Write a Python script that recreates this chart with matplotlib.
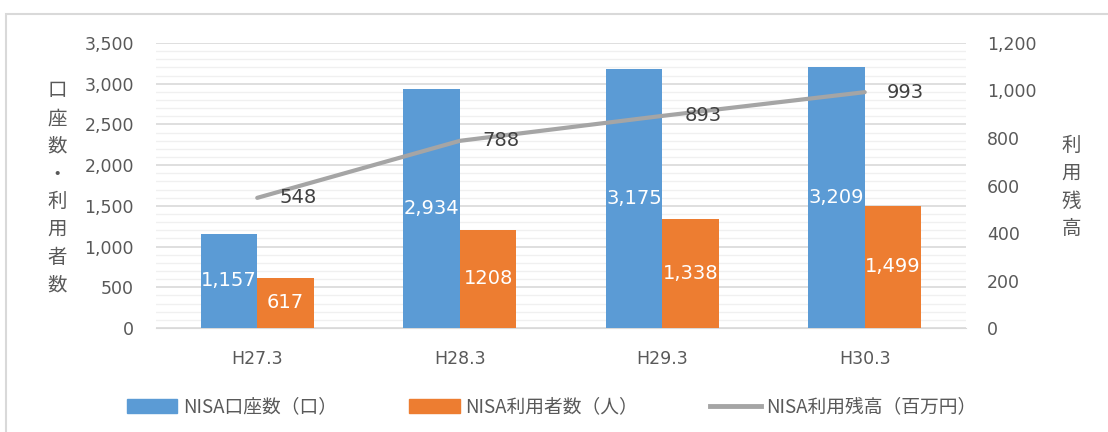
import numpy as np
import matplotlib.pyplot as plt
from matplotlib.patches import Patch, Rectangle
from matplotlib.lines import Line2D
from matplotlib.ticker import MultipleLocator, FuncFormatter

plt.rcParams['font.family'] = ['DejaVu Sans', 'Noto Sans CJK JP']
cjk = ['Noto Sans CJK JP', 'DejaVu Sans']

# データ
categories = ['H27.3', 'H28.3', 'H29.3', 'H30.3']
accounts = [1157, 2934, 3175, 3209]          # NISA口座数（口）
users = [617, 1208, 1338, 1499]              # NISA利用者数（人）
balance = [548, 788, 893, 993]               # NISA利用残高（百万円）
user_labels = ['617', '1208', '1,338', '1,499']

blue = '#5b9bd5'
orange = '#ed7d31'
gray = '#a5a5a5'
txt = '#595959'

fig = plt.figure(figsize=(11.08, 4.32), dpi=100)
ax = fig.add_axes([0.1408, 0.2407, 0.731, 0.6598])
ax2 = ax.twinx()

x = np.arange(len(categories))
w = 0.28
b1 = ax.bar(x - w / 2, accounts, w, color=blue, zorder=3)
b2 = ax.bar(x + w / 2, users, w, color=orange, zorder=3)

for rect, v in zip(b1, accounts):
    ax.text(rect.get_x() + rect.get_width() / 2, v / 2, f'{v:,}', color='white',
            ha='center', va='center', fontsize=14, zorder=4)
for rect, v, s in zip(b2, users, user_labels):
    ax.text(rect.get_x() + rect.get_width() / 2, v / 2, s, color='white',
            ha='center', va='center', fontsize=14, zorder=4)

ax.set_ylim(0, 3500)
ax.set_xlim(-0.5, 3.5)
ax.yaxis.set_major_locator(MultipleLocator(500))
ax.yaxis.set_minor_locator(MultipleLocator(100))
ax.yaxis.set_major_formatter(FuncFormatter(lambda v, p: f'{v:,.0f}'))
ax.grid(axis='y', which='major', color='#d9d9d9', lw=1.2, zorder=0)
ax.grid(axis='y', which='minor', color='#f0f0f0', lw=1.0, zorder=0)
ax.set_axisbelow(True)
ax.set_xticks(x)
ax.set_xticklabels(categories)
ax.tick_params(axis='y', which='both', length=0, labelsize=12.5, colors=txt, pad=16)
ax.tick_params(axis='x', length=0, labelsize=12.5, colors=txt, pad=16)
for s in ['top', 'left', 'right']:
    ax.spines[s].set_visible(False)
ax.spines['bottom'].set_color('#d9d9d9')

ax2.plot(x, balance, color=gray, lw=3, solid_capstyle='round', zorder=5)
for xi, v in zip(x, balance):
    ax2.annotate(f'{v:,}', (xi, v), xytext=(16, 0), textcoords='offset points',
                 ha='left', va='center', fontsize=14, color='#404040', zorder=6)
ax2.set_ylim(0, 1200)
ax2.yaxis.set_major_locator(MultipleLocator(200))
ax2.yaxis.set_major_formatter(FuncFormatter(lambda v, p: f'{v:,.0f}'))
ax2.tick_params(axis='y', length=0, labelsize=12.5, colors=txt, pad=15)
for s in ax2.spines.values():
    s.set_visible(False)

# 縦書きの軸ラベル
fig.text(0.0514, 0.565, '口\n座\n数\n・\n利\n用\n者\n数', ha='center', va='center',
         fontsize=14, color=txt, linespacing=1.42, family=cjk)
fig.text(0.967, 0.567, '利\n用\n残\n高', ha='center', va='center',
         fontsize=14, color=txt, linespacing=1.42, family=cjk)

# 枠
fig.patches.append(Rectangle((6 / 1108, -0.1), 1.2, 1 - 14 / 432 + 0.1,
                             transform=fig.transFigure, fill=False,
                             edgecolor='#d9d9d9', lw=1.5))

handles = [Patch(color=blue), Patch(color=orange),
           Line2D([], [], color=gray, lw=3.5)]
labels = ['NISA口座数（口）', 'NISA利用者数（人）', 'NISA利用残高（百万円）']
fig.legend(handles, labels, loc='center', bbox_to_anchor=(0.498, 0.058), ncol=3,
           frameon=False, prop={'family': cjk, 'size': 13.5}, labelcolor=txt,
           handlelength=2.7, handletextpad=0.3, columnspacing=3.85, handleheight=0.75)

fig.savefig('out.png', dpi=100)
